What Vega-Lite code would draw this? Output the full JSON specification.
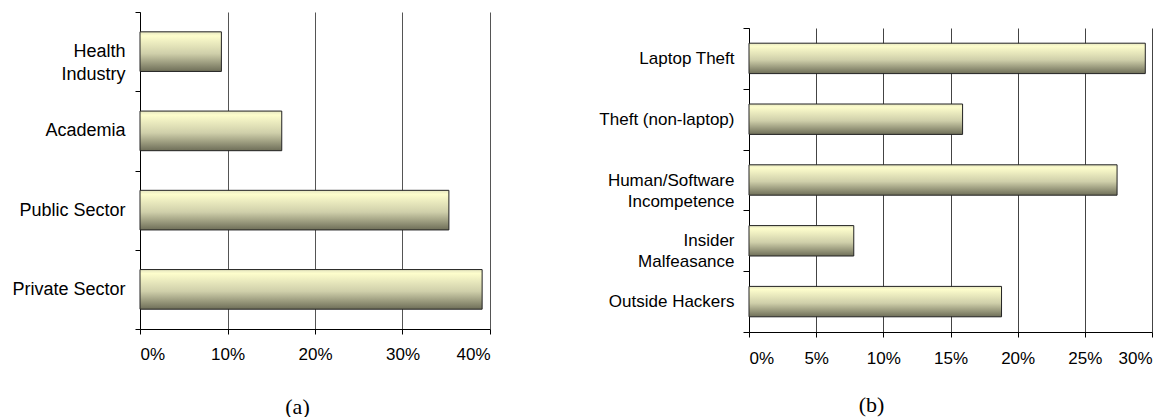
{
  "$schema": "https://vega.github.io/schema/vega-lite/v6.json",
  "background": "white",
  "padding": {"left": 11, "top": 3, "right": 0, "bottom": 0},
  "spacing": 107,
  "datasets": {
    "sector": [
      {"category": "Health Industry", "share": 0.093},
      {"category": "Academia", "share": 0.162},
      {"category": "Public Sector", "share": 0.353},
      {"category": "Private Sector", "share": 0.391}
    ],
    "cause": [
      {"category": "Laptop Theft", "share": 0.295},
      {"category": "Theft (non-laptop)", "share": 0.159},
      {"category": "Human/Software Incompetence", "share": 0.274},
      {"category": "Insider Malfeasance", "share": 0.078},
      {"category": "Outside Hackers", "share": 0.188}
    ],
    "empty": []
  },
  "config": {
    "view": {"stroke": null},
    "font": "Liberation Sans",
    "axis": {
      "labelColor": "#000",
      "domainColor": "#000",
      "tickColor": "#000",
      "labelFont": "Liberation Sans",
      "titleFont": "Liberation Serif",
      "titleFontWeight": "normal",
      "titleColor": "#000"
    }
  },
  "hconcat": [
    {
      "width": 350,
      "height": 317,
      "data": {"name": "sector"},
      "mark": {
        "type": "bar",
        "height": {"band": 0.5},
        "stroke": "#222",
        "strokeWidth": 1,
        "color": {
          "gradient": "linear",
          "x1": 0, "y1": 0, "x2": 0, "y2": 1,
          "stops": [
            {"offset": 0, "color": "#e6e6c0"},
            {"offset": 0.1, "color": "#fdfdcc"},
            {"offset": 0.55, "color": "#cfcfaa"},
            {"offset": 1, "color": "#6e6e58"}
          ]
        }
      },
      "encoding": {
        "y": {
          "field": "category",
          "type": "nominal",
          "sort": null,
          "scale": {"paddingInner": 0, "paddingOuter": 0},
          "axis": {
            "title": null,
            "tickBand": "extent",
            "tickSize": 5,
            "labelPadding": 10,
            "labelFontSize": 18,
            "labelLineHeight": 23,
            "labelExpr": "datum.label == 'Health Industry' ? ['Health\u00a0', 'Industry'] : datum.label"
          }
        },
        "x": {
          "field": "share",
          "type": "quantitative",
          "scale": {"domain": [0, 0.4], "nice": false},
          "axis": {
            "values": [0, 0.1, 0.2, 0.3, 0.4],
            "format": ".0%",
            "grid": true,
            "gridColor": "#555",
            "gridOpacity": 1,
            "tickSize": 5,
            "labelPadding": 12,
            "labelFontSize": 17,
            "title": "(a)",
            "titleFontSize": 22,
            "titleX": 157,
            "titleY": 84.5,
            "titleAlign": "center",
            "titleBaseline": "alphabetic",
            "titleAnchor": null
          }
        }
      }
    },
    {
      "spacing": 0,
      "vconcat": [
        {
          "width": 1,
          "height": 7,
          "data": {"name": "empty"},
          "mark": {"type": "point", "opacity": 0},
          "encoding": {}
        },
        {
          "width": 403,
          "height": 304,
          "data": {"name": "cause"},
          "mark": {
            "type": "bar",
            "height": {"band": 0.5},
            "stroke": "#222",
            "strokeWidth": 1,
            "color": {
              "gradient": "linear",
              "x1": 0, "y1": 0, "x2": 0, "y2": 1,
              "stops": [
                {"offset": 0, "color": "#e6e6c0"},
                {"offset": 0.1, "color": "#fdfdcc"},
                {"offset": 0.55, "color": "#cfcfaa"},
                {"offset": 1, "color": "#6e6e58"}
              ]
            }
          },
          "encoding": {
            "y": {
              "field": "category",
              "type": "nominal",
              "sort": null,
              "scale": {"paddingInner": 0, "paddingOuter": 0},
              "axis": {
                "title": null,
                "tickBand": "extent",
                "tickSize": 6,
                "labelPadding": 9,
                "labelFontSize": 17,
                "labelLineHeight": 21,
                "labelExpr": "datum.label == 'Human/Software Incompetence' ? ['Human/Software', 'Incompetence\u00a0\u00a0'] : datum.label == 'Insider Malfeasance' ? ['Insider\u00a0\u00a0\u00a0\u00a0\u00a0', 'Malfeasance'] : datum.label"
              }
            },
            "x": {
              "field": "share",
              "type": "quantitative",
              "scale": {"domain": [0, 0.3], "nice": false},
              "axis": {
                "values": [0, 0.05, 0.1, 0.15, 0.2, 0.25, 0.3],
                "format": ".0%",
                "grid": true,
                "gridColor": "#444",
                "gridOpacity": 1,
                "tickSize": 5,
                "labelPadding": 13,
                "labelFontSize": 17,
                "title": "(b)",
                "titleFontSize": 22,
                "titleX": 122,
                "titleY": 79.3,
                "titleAlign": "center",
                "titleBaseline": "alphabetic",
                "titleAnchor": null
              }
            }
          }
        }
      ]
    }
  ]
}
